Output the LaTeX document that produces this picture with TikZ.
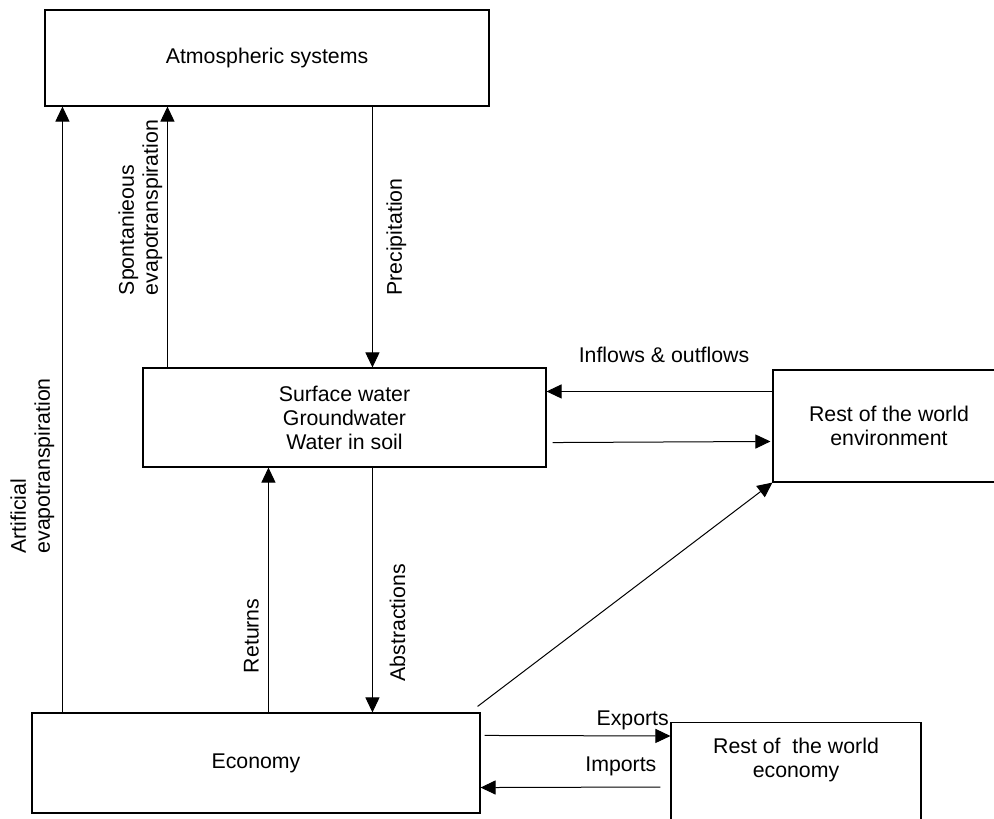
\documentclass[tikz,border=0pt]{standalone}
\usepackage{fontspec}
\setmainfont{Liberation Sans}
\usetikzlibrary{arrows.meta, positioning}

\begin{document}
\begin{tikzpicture}[x=1pt, y=-1pt,
  box/.style={rectangle, draw, line width=1.1pt, align=center, inner sep=0pt,
              font=\fontsize{21.3}{24}\selectfont},
  flow/.style={-{Triangle[length=15pt, width=14pt]}, line width=1pt},
  lbl/.style={font=\fontsize{21.3}{24}\selectfont, inner sep=0pt},
  vlbl/.style={lbl, rotate=90, align=left},
]
  \path[use as bounding box, clip] (0,0) rectangle (994,819);

  \node[box, minimum width=444pt, minimum height=96pt]  (atm)    at (267,58)      {Atmospheric systems};
  \node[box, minimum width=403pt, minimum height=99pt]  (surf)   at (344.5,417.5) {Surface water\\Groundwater\\Water in soil};
  \node[box, minimum width=232pt, minimum height=112pt] (rowenv) at (889,426)     {Rest of the world\\environment};
  \node[box, minimum width=448pt, minimum height=100pt] (eco)    at (256,763)     {Economy};
  \node[box, minimum width=250pt, minimum height=120pt, anchor=north] (roweco) at (796,722) {};
  \node[lbl, align=center] (rowecotxt) at ([yshift=-38pt]roweco.north) {Rest of~ the world\\economy};

  % evaporation and precipitation
  \draw[flow] ([xshift=31pt]eco.north west) -- node[xshift=-30pt, vlbl, pos=0.407] {Artificial\\evapotranspiration} ([xshift=18pt]atm.south west);
  \draw[flow] ([xshift=25pt]surf.north west) -- node[xshift=-27pt, vlbl, pos=0.613] {Spontanieous\\evapotranspiration} ([xshift=123pt]atm.south west);
  \draw[flow] ([xshift=328pt]atm.south west) -- node[xshift=24pt, vlbl, pos=0.5] {Precipitation} ([xshift=230pt]surf.north west);

  % exchanges with the rest of the world
  \draw[flow] ([yshift=-22pt]rowenv.north west) -- node[yshift=37pt, lbl, pos=0.48] {Inflows \& outflows} ([yshift=-24pt]surf.north east);
  \draw[flow, shorten >=2pt] ([shift={(6pt,25pt)}]surf.south east) -- ([yshift=-72pt]rowenv.north west);
  \draw[flow] ([shift={(-3pt,6pt)}]eco.north east) -- (rowenv.south west);

  % abstractions and returns
  \draw[flow] ([xshift=230pt]surf.south west) -- node[xshift=25pt, vlbl, pos=0.634] {Abstractions} ([xshift=341pt]eco.north west);
  \draw[flow] ([xshift=237pt]eco.north west) -- node[xshift=-17pt, vlbl, pos=0.313] {Returns} ([xshift=126pt]surf.south west);

  % trade
  \draw[flow] ([shift={(4pt,-23pt)}]eco.north east) -- node[yshift=16pt, lbl, pos=0.797] {Exports} ([yshift=-14pt]roweco.north west);
  \draw[flow] ([shift={(-10pt,-65pt)}]roweco.north west) -- node[yshift=21pt, lbl, pos=0.22] {Imports} ([yshift=26pt]eco.south east);
\end{tikzpicture}
\end{document}
